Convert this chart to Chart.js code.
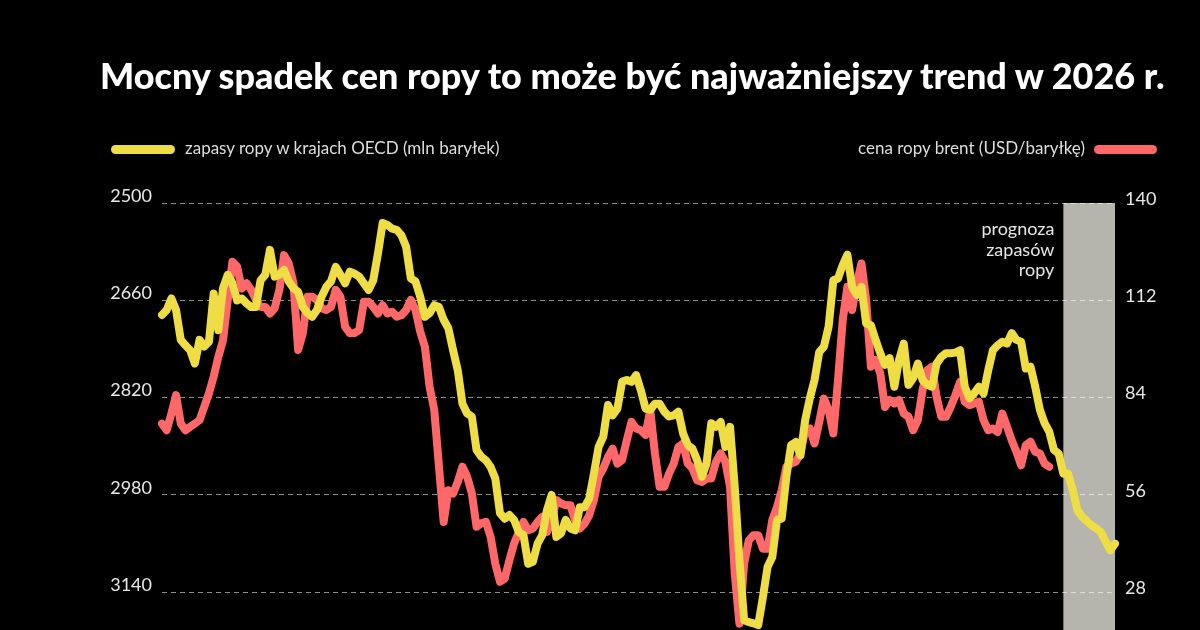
<!DOCTYPE html>
<html lang="pl">
<head>
<meta charset="utf-8">
<title>Mocny spadek cen ropy</title>
<script src="https://cdn.jsdelivr.net/npm/chart.js@4/dist/chart.umd.min.js"></script>
<style>
  html, body { margin: 0; padding: 0; background: #000; overflow: hidden; }
  #wrap { position: relative; width: 1200px; height: 630px; background: #000; font-family: Lato, sans-serif; }
  #chart { position: absolute; left: 0; top: 0; }
  .title { position: absolute; left: 100px; top: 58px; font-size: 36px; line-height: 34px; font-weight: 900; color: #fff; white-space: nowrap; }
  .leg { position: absolute; top: 139px; font-size: 17px; line-height: 17px; color: #dedede; white-space: nowrap; }
  .sw { position: absolute; top: 145px; height: 9px; border-radius: 5px; }
</style>
</head>
<body>
<div id="wrap">
  <canvas id="chart" width="1200" height="630"></canvas>
  <div class="title">Mocny spadek cen ropy to może być najważniejszy trend w 2026 r.</div>
  <div class="sw" style="left:111px;width:64px;background:#efdd45"></div>
  <div class="leg" style="left:185px">zapasy ropy w krajach OECD (mln baryłek)</div>
  <div class="leg" style="right:115px">cena ropy brent (USD/baryłkę)</div>
  <div class="sw" style="left:1094px;width:63px;background:#ff6868"></div>
</div>
<script>
// months Jan 2010 - Dec 2026
const years = [2010, 2011, 2012, 2013, 2014, 2015, 2016, 2017, 2018, 2019, 2020, 2021, 2022, 2023, 2024, 2025, 2026];
const monthCodes = ['01', '02', '03', '04', '05', '06', '07', '08', '09', '10', '11', '12'];
const labels = years.flatMap(y => monthCodes.map(m => y + '-' + m));
const forecastStart = '2026-01';

// OECD oil stocks, mln bbl (left axis, reversed); 2026 = forecast
const stocks = [
  2684, 2676, 2657, 2676, 2725, 2734, 2742, 2764, 2725, 2736,
  2728, 2649, 2709, 2640, 2618, 2632, 2660, 2657, 2665, 2671,
  2671, 2627, 2618, 2577, 2621, 2618, 2610, 2629, 2640, 2646,
  2671, 2681, 2687, 2676, 2654, 2638, 2629, 2605, 2618, 2632,
  2613, 2616, 2621, 2632, 2643, 2627, 2583, 2533, 2536, 2542,
  2544, 2553, 2572, 2624, 2629, 2654, 2687, 2681, 2668, 2671,
  2692, 2706, 2742, 2775, 2830, 2846, 2851, 2906, 2917, 2923,
  2934, 2953, 3010, 3019, 3013, 3021, 3041, 3046, 3093, 3090,
  3060, 3046, 3005, 2980, 3049, 3043, 3021, 3035, 3038, 3000,
  3000, 2986, 2945, 2901, 2884, 2832, 2849, 2838, 2794, 2791,
  2794, 2783, 2808, 2838, 2840, 2830, 2830, 2843, 2851, 2849,
  2843, 2879, 2898, 2904, 2923, 2950, 2928, 2862, 2868, 2860,
  2901, 2868, 2967, 3087, 3186, 3189, 3191, 3194, 3148, 3098,
  3082, 3021, 3019, 2950, 2898, 2893, 2915, 2857, 2821, 2791,
  2745, 2736, 2703, 2627, 2624, 2602, 2585, 2638, 2651, 2638,
  2698, 2701, 2725, 2747, 2766, 2755, 2802, 2758, 2731, 2799,
  2788, 2764, 2791, 2799, 2802, 2764, 2753, 2747, 2747, 2746,
  2742, 2802, 2821, 2813, 2802, 2813, 2775, 2742, 2734, 2728,
  2731, 2714, 2725, 2728, 2772, 2769, 2802, 2840, 2862, 2876,
  2906, 2912, 2945, 2945, 2972, 3005, 3016, 3023, 3030, 3035,
  3041, 3057, 3071, 3060
];

// Brent, USD/bbl (right axis)
const brent = [
  76.5, 74.6, 79.4, 84.7, 76.5, 74.6, 75.6, 76.5, 77.5, 81.3,
  85.2, 90.0, 95.7, 100.5, 112.1, 123.1, 121.7, 115.4, 116.9, 115.0,
  112.1, 110.1, 110.1, 108.2, 109.7, 115.0, 125.0, 122.6, 116.9, 97.7,
  102.5, 113.0, 113.0, 112.1, 109.7, 109.2, 110.1, 115.0, 113.0, 104.4,
  102.5, 102.6, 103.4, 111.6, 111.6, 110.1, 108.2, 110.6, 108.2, 108.7,
  107.3, 107.7, 109.2, 112.1, 109.2, 103.0, 98.6, 87.1, 80.4, 64.1,
  48.2, 57.3, 56.4, 59.7, 64.1, 61.2, 56.4, 46.8, 47.8, 48.2,
  43.9, 36.2, 31.0, 31.9, 37.2, 42.0, 45.3, 48.2, 45.8, 46.3,
  48.2, 49.7, 45.3, 48.7, 54.5, 53.5, 53.0, 53.0, 48.7, 46.3,
  47.7, 50.1, 54.5, 61.2, 63.6, 66.9, 69.3, 65.0, 66.0, 71.7,
  77.0, 75.1, 74.6, 73.2, 80.4, 67.9, 58.3, 58.3, 62.1, 65.0,
  69.8, 70.8, 65.0, 63.6, 60.2, 59.7, 60.7, 60.7, 65.5, 67.9,
  65.5, 58.3, 33.3, 18.9, 36.2, 42.9, 44.4, 44.4, 40.5, 40.5,
  48.7, 52.5, 57.3, 64.1, 65.0, 65.5, 67.9, 74.6, 75.1, 70.8,
  77.0, 83.7, 80.4, 73.7, 89.0, 106.3, 115.9, 109.2, 116.9, 122.6,
  112.1, 92.9, 94.8, 91.0, 81.3, 83.3, 82.3, 83.3, 79.4, 78.5,
  74.6, 77.5, 86.1, 91.9, 92.9, 84.2, 78.5, 78.5, 81.3, 84.7,
  88.5, 82.8, 81.8, 82.3, 82.8, 77.5, 74.6, 75.1, 74.1, 79.4,
  75.6, 71.7, 68.4, 64.5, 70.3, 71.3, 68.4, 67.9, 65.0, 64.1
];

const stockTicks = [2500, 2660, 2820, 2980, 3140];
const priceTicks = [140, 112, 84, 56, 28];
const forecastNote = ['prognoza', 'zapasów', 'ropy'];

// grey forecast band + its note, drawn under the grid
const forecastBand = {
    id: 'forecastBand',
    beforeDraw(chart) {
        const { ctx, chartArea, scales } = chart;
        const x0 = scales.x.getPixelForValue(labels.indexOf(forecastStart));
        ctx.save();
        ctx.fillStyle = '#b5b5ad';
        ctx.fillRect(x0, chartArea.top, chartArea.right - x0, chartArea.bottom - chartArea.top);
        ctx.fillStyle = '#e6e6e6';
        ctx.font = '18px Lato';
        ctx.textAlign = 'right';
        ctx.textBaseline = 'alphabetic';
        forecastNote.forEach((t, k) => ctx.fillText(t, x0 - 9, chartArea.top + 32 + k * 20.5));
        ctx.restore();
    }
};

const tickFont = { family: 'Lato', size: 18 };

// fixed axis widths, no extra room for the edge labels
function fixAxis(width) {
    return s => {
        s.width = width;
        s.paddingTop = 0;
        s.paddingBottom = 0;
    };
}

new Chart(document.getElementById('chart'), {
    type: 'line',
    data: {
        labels: labels,
        datasets: [
            {
                label: 'zapasy ropy w krajach OECD (mln baryłek)',
                data: stocks,
                yAxisID: 'yStocks',
                borderColor: '#efdd45',
                borderWidth: 8,
                pointRadius: 0,
                tension: 0,
                borderJoinStyle: 'round',
                borderCapStyle: 'round'
            },
            {
                label: 'cena ropy brent (USD/baryłkę)',
                data: brent,
                yAxisID: 'yPrice',
                borderColor: '#ff6868',
                borderWidth: 8,
                pointRadius: 0,
                tension: 0,
                borderJoinStyle: 'round',
                borderCapStyle: 'round'
            }
        ]
    },
    options: {
        responsive: false,
        animation: false,
        layout: { padding: { top: 203, left: 0, right: 0, bottom: 0 } },
        plugins: {
            legend: { display: false },
            tooltip: { enabled: false }
        },
        scales: {
            x: { display: false },
            yStocks: {
                position: 'left',
                reverse: true,
                min: 2500,
                max: 3202,
                afterBuildTicks: s => { s.ticks = stockTicks.map(v => ({ value: v })); },
                afterFit: fixAxis(162),
                grid: {
                    color: 'rgba(255,255,255,0.55)',
                    lineWidth: 1,
                    drawTicks: false
                },
                border: { display: false, dash: [5, 4] },
                ticks: { color: '#e8e8e8', font: tickFont, padding: 10, labelOffset: -7, callback: v => String(v) }
            },
            yPrice: {
                position: 'right',
                min: 17.1,
                max: 140,
                afterBuildTicks: s => { s.ticks = priceTicks.map(v => ({ value: v })); },
                afterFit: fixAxis(85),
                border: { display: false },
                grid: { display: false, drawTicks: false },
                ticks: { color: '#e8e8e8', font: tickFont, padding: 10, labelOffset: -4, callback: v => String(v) }
            }
        }
    },
    plugins: [forecastBand]
});
</script>
</body>
</html>
